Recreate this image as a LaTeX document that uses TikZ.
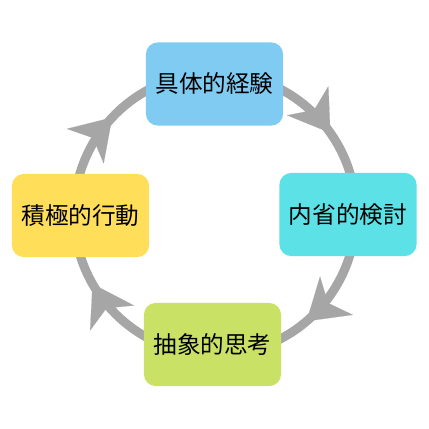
\documentclass[tikz,border=0pt]{standalone}
\usepackage{fontspec}
\newfontfamily\jpfont{Noto Sans CJK JP}
\usetikzlibrary{arrows.meta,decorations.markings,backgrounds}
\definecolor{keiken}{HTML}{7FCBF2}
\definecolor{naisei}{HTML}{5CE1E6}
\definecolor{chusho}{HTML}{C9E265}
\definecolor{kodo}{HTML}{FFDE59}
\definecolor{ringgray}{HTML}{A6A6A6}

\begin{document}
\begin{tikzpicture}[x=0.025cm,y=0.025cm,
	stage/.style={rounded corners=8.5pt,minimum width=3.43cm,minimum height=2.08cm,inner sep=0pt,
		font=\jpfont\fontsize{16.8}{20}\selectfont},
	ring/.style={line width=6.4pt,draw=ringgray,postaction={decorate},
		decoration={markings,mark=at position #1 with
			{\arrow[ringgray]{Stealth[length=28pt,width=36pt,inset=8pt,line width=0.1pt]}}}}]
	\useasboundingbox (0,0) rectangle (429,429);
	
	\node[stage,fill=keiken] (keiken) at (214.5,345) {具体的経験};
	\node[stage,fill=naisei] (naisei) at (348,214.5) {内省的検討};
	\node[stage,fill=chusho] (chusho) at (212.5,84.5) {抽象的思考};
	\node[stage,fill=kodo] (kodo) at (80.5,213.5) {積極的行動};
	\coordinate (hub) at (215,215);
	
	\begin{scope}[on background layer]
	\draw[ring=0.61] (hub) ++(90:141) arc[start angle=90,end angle=0,radius=141];
	\draw[ring=0.55] (hub) ++(0:141) arc[start angle=0,end angle=-90,radius=141];
	\draw[ring=0.67] (hub) ++(-90:141) arc[start angle=-90,end angle=-180,radius=141];
	\draw[ring=0.48] (hub) ++(180:141) arc[start angle=180,end angle=90,radius=141];
	\end{scope}
\end{tikzpicture}
\end{document}
